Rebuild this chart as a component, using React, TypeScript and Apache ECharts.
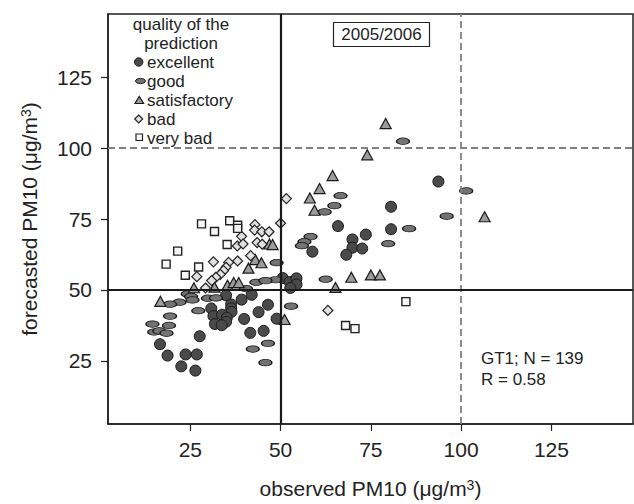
import React, { useEffect, useRef } from "react";
import * as echarts from "echarts";

const FONT = '"Liberation Sans", Arial, Helvetica, sans-serif';
const TXT = "#222";

const xTicks = [25, 50, 75, 100, 125];
const yTicks = [25, 50, 75, 100, 125];

const legendTitle = ["quality of the", "prediction"];
const categories = ["excellent", "good", "satisfactory", "bad", "very bad"];

const excellent = [
  [93.7, 88.2], [80.6, 79.3], [65.9, 72.5], [80.6, 71.4], [73.6, 69.5], [69.9, 67.8],
  [69.9, 64.9], [72.6, 64.6], [68.2, 62.4], [58.8, 63.5],
  [50.6, 54.2], [52.5, 52.8], [54.4, 54.1], [54.4, 51.9], [52.7, 50.7],
  [34.9, 48.1], [42.0, 48.3], [39.2, 46.6], [46.5, 44.8], [30.8, 43.5],
  [36.3, 44.9], [36.3, 43.5], [36.4, 42.3], [43.9, 42.2], [31.4, 40.8], [33.8, 41.3],
  [35.1, 40.2], [34.9, 38.8], [31.8, 38.0], [33.7, 37.6], [39.9, 39.8], [48.9, 39.9],
  [41.6, 34.9], [45.3, 35.6], [27.6, 33.7], [16.6, 30.9], [18.7, 26.9], [23.7, 27.3],
  [26.8, 27.3], [22.5, 23.1], [26.4, 21.6],
];

const good = [
  [83.9, 102.4], [101.4, 84.9], [96.0, 76.0], [85.6, 71.6], [79.8, 66.3], [66.6, 83.2],
  [64.9, 79.7], [62.2, 77.5], [58.3, 68.8], [56.6, 67.0], [55.9, 65.6], [48.9, 59.6],
  [48.6, 53.6], [62.5, 53.8], [52.9, 44.3], [43.3, 52.7], [45.8, 53.3], [40.4, 50.5],
  [24.3, 48.6], [25.2, 47.7], [25.6, 46.5], [22.0, 45.7], [19.4, 45.0], [29.9, 47.1],
  [32.1, 47.2], [27.2, 42.7], [19.4, 40.8], [14.5, 38.0], [19.1, 37.5], [15.0, 35.2],
  [16.4, 35.6], [18.4, 34.8], [46.5, 31.2], [42.3, 29.2], [45.8, 24.4],
];

const satisfactory = [
  [46.9, 66.2], [47.8, 66.0], [43.0, 60.7], [44.7, 59.6], [41.1, 57.7], [35.3, 51.7],
  [37.0, 52.6], [38.4, 52.6], [31.7, 51.0], [26.0, 50.8], [16.7, 46.0], [51.1, 39.6],
  [79.1, 108.6], [74.0, 97.6], [64.4, 90.3], [60.8, 85.7], [58.1, 82.4], [59.4, 78.1],
  [69.6, 54.5], [75.0, 55.3], [77.5, 55.3], [65.2, 50.9], [106.5, 75.8],
];

const bad = [
  [51.6, 82.2], [50.0, 73.5], [42.9, 73.0], [42.8, 71.1], [44.8, 70.5], [46.8, 70.5],
  [39.2, 68.9], [38.0, 65.5], [39.6, 66.2], [43.5, 66.7], [44.9, 66.1], [41.7, 62.1],
  [38.1, 60.2], [35.6, 59.7], [31.4, 59.9], [34.9, 58.0], [34.2, 56.8], [33.3, 55.5],
  [32.1, 54.5], [30.9, 53.3], [26.8, 54.7], [29.2, 50.7], [63.1, 42.8],
];

const veryBad = [
  [28.1, 73.3], [35.9, 74.4], [38.1, 72.8], [38.1, 71.7], [31.7, 70.6], [35.2, 66.0],
  [21.5, 63.7], [18.3, 59.1], [27.3, 58.1], [23.6, 55.2], [84.7, 45.9], [68.0, 37.5],
  [70.6, 36.4],
];

const periodLabel = "2005/2006";
const statLines = ["GT1; N = 139", "R = 0.58"];

const ELLIPSE =
  "path://M0,5 C0,2.24 4.48,0 10,0 C15.52,0 20,2.24 20,5 C20,7.76 15.52,10 10,10 C4.48,10 0,7.76 0,5 Z";

export default function App() {
  const ref = useRef<HTMLDivElement>(null);
  useEffect(() => {
    if (!ref.current) return;
    const chart = echarts.init(ref.current, undefined, { renderer: "svg" });
    const axisCommon = {
      type: "value" as const,
      splitLine: { show: false },
      axisLine: { show: true, onZero: false, lineStyle: { color: TXT, width: 1.5 } },
      axisTick: { show: true, length: 7, lineStyle: { color: TXT, width: 1.2 } },
      nameLocation: "middle" as const,
    };
    const legendFont = `17px ${FONT}`;
    const legendX = 147;
    const legendY = [62, 81, 100, 119, 138];
    const mkStroke = "#1a1a1a";
    chart.setOption({
      animation: false,
      backgroundColor: "#fff",
      textStyle: { fontFamily: FONT },
      grid: {
        left: 108, right: 1, top: 14, bottom: 77,
        show: true, borderColor: TXT, borderWidth: 1.5, backgroundColor: "transparent",
      },
      xAxis: {
        ...axisCommon,
        min: 2.2, max: 147.6,
        axisTick: { ...axisCommon.axisTick, customValues: xTicks },
        axisLabel: { customValues: xTicks, fontSize: 21, color: TXT, margin: 15, fontFamily: FONT },
        name: "observed PM10 (μg/m{sup|3})",
        nameGap: 54,
        nameTextStyle: {
          fontSize: 21, color: TXT, fontFamily: FONT,
          rich: { sup: { fontSize: 14, verticalAlign: "top", color: TXT, fontFamily: FONT } },
        },
      },
      yAxis: {
        ...axisCommon,
        min: 2.8, max: 147.2,
        axisTick: { ...axisCommon.axisTick, customValues: yTicks },
        axisLabel: { customValues: yTicks, fontSize: 21, color: TXT, margin: 16, fontFamily: FONT },
        name: "forecasted PM10 (μg/m{sup|3})",
        nameGap: 68,
        nameTextStyle: {
          fontSize: 21, color: TXT, fontFamily: FONT,
          rich: { sup: { fontSize: 14, verticalAlign: "top", color: TXT, fontFamily: FONT } },
        },
      },
      series: [
        {
          name: "refs", type: "scatter", data: [], z: 1,
          markLine: {
            silent: true, symbol: "none", label: { show: false }, animation: false,
            data: [
              { xAxis: 100, lineStyle: { color: "#808080", width: 1.8, type: [7, 4] } },
              { yAxis: 100, lineStyle: { color: "#808080", width: 1.8, type: [7, 4] } },
              { xAxis: 50, lineStyle: { color: "#1a1a1a", width: 2.2, type: "solid" } },
              { yAxis: 50, lineStyle: { color: "#1a1a1a", width: 2.2, type: "solid" } },
            ],
          },
        },
        {
          name: "excellent", type: "scatter", data: excellent, z: 3,
          symbol: "circle", symbolSize: 11,
          itemStyle: { color: "#4a4a4a", borderColor: mkStroke, borderWidth: 1, opacity: 1 },
        },
        {
          name: "good", type: "scatter", data: good, z: 3,
          symbol: ELLIPSE, symbolSize: [13, 6.5],
          itemStyle: { color: "#737373", borderColor: mkStroke, borderWidth: 1, opacity: 1 },
        },
        {
          name: "satisfactory", type: "scatter", data: satisfactory, z: 3,
          symbol: "triangle", symbolSize: [11, 10],
          itemStyle: { color: "#9c9c9c", borderColor: mkStroke, borderWidth: 1.2, opacity: 1 },
        },
        {
          name: "bad", type: "scatter", data: bad, z: 3,
          symbol: "diamond", symbolSize: [10, 10],
          itemStyle: { color: "#e0e0e0", borderColor: "#222", borderWidth: 1.2, opacity: 1 },
        },
        {
          name: "very bad", type: "scatter", data: veryBad, z: 3,
          symbol: "rect", symbolSize: [8, 8],
          itemStyle: { color: "#f7f7f7", borderColor: "#222", borderWidth: 1.4, opacity: 1 },
        },
      ],
      graphic: [
        { type: "text", x: 181, y: 24, style: { text: legendTitle[0], font: legendFont, fill: TXT, align: "center", verticalAlign: "middle" } },
        { type: "text", x: 181, y: 43, style: { text: legendTitle[1], font: legendFont, fill: TXT, align: "center", verticalAlign: "middle" } },
        ...categories.map((c, i) => ({
          type: "text", x: legendX, y: legendY[i],
          style: { text: c, font: legendFont, fill: TXT, align: "left", verticalAlign: "middle" },
        })),
        { type: "circle", shape: { cx: 138.7, cy: 62, r: 4.2 }, style: { fill: "#4a4a4a", stroke: mkStroke, lineWidth: 1 } },
        { type: "ellipse", shape: { cx: 140.5, cy: 81, rx: 5, ry: 2.6 }, style: { fill: "#737373", stroke: mkStroke, lineWidth: 1 } },
        { type: "polygon", shape: { points: [[135, 103.5], [143.6, 103.5], [139.3, 96.5]] }, style: { fill: "#9c9c9c", stroke: mkStroke, lineWidth: 1.2 } },
        { type: "polygon", shape: { points: [[138.7, 115], [142.7, 119], [138.7, 123], [134.7, 119]] }, style: { fill: "#e0e0e0", stroke: "#222", lineWidth: 1.2 } },
        { type: "rect", shape: { x: 136, y: 134, width: 6.5, height: 6.5 }, style: { fill: "#f7f7f7", stroke: "#222", lineWidth: 1.2 } },
        { type: "rect", shape: { x: 333.5, y: 22.5, width: 96, height: 24 }, style: { fill: "#fff", stroke: TXT, lineWidth: 1.2 } },
        { type: "text", x: 381.5, y: 34.5, style: { text: periodLabel, font: legendFont, fill: TXT, align: "center", verticalAlign: "middle" } },
        { type: "text", x: 481, y: 358, style: { text: statLines[0], font: legendFont, fill: TXT, align: "left", verticalAlign: "middle" } },
        { type: "text", x: 481, y: 379, style: { text: statLines[1], font: legendFont, fill: TXT, align: "left", verticalAlign: "middle" } },
      ],
    });
    return () => chart.dispose();
  }, []);
  return (
    <div
      ref={ref}
      style={{ position: "absolute", left: 0, top: 0, width: 634, height: 504, background: "#fff" }}
    />
  );
}
